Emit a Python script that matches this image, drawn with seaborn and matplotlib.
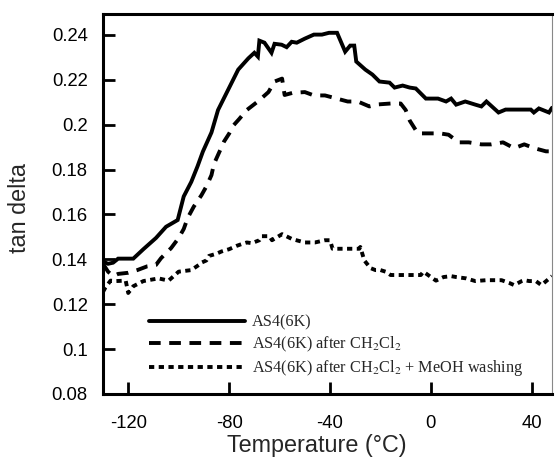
import matplotlib
matplotlib.use("Agg")
import matplotlib.pyplot as plt
import seaborn as sns
import pandas as pd

# tan delta vs temperature for the three fibre treatments
temp_as4 = [-130, -128, -126, -124, -120, -118, -114, -109, -105, -100.4, -98, -95,
            -92.5, -90.4, -87, -84.4, -80.4, -76.4, -72.4, -70, -68.6, -68, -66,
            -63.2, -62, -59.2, -57.2, -55.2, -53.2, -50, -46.4, -43.2, -40.4, -37.2,
            -34, -32, -30.4, -29.6, -26, -23.2, -20.4, -16.4, -14.4, -11.2, -8.4, -6,
            -2, 2.8, 6, 8, 10, 13.6, 17.6, 20, 22, 26.8, 29.6, 39.6, 40.8, 42.8,
            46.8, 48]
tan_as4 = [0.139, 0.138, 0.1385, 0.1403, 0.1403, 0.1403, 0.1445, 0.1495, 0.1545,
           0.1575, 0.168, 0.1745, 0.1815, 0.188, 0.1965, 0.2065, 0.2155, 0.2245,
           0.2295, 0.232, 0.2303, 0.2374, 0.2365, 0.232, 0.236, 0.2356, 0.2345,
           0.2369, 0.2365, 0.2383, 0.2401, 0.2401, 0.2409, 0.2409, 0.2325, 0.2352,
           0.2352, 0.2281, 0.2245, 0.2223, 0.2192, 0.2187, 0.2165, 0.2174, 0.2165,
           0.2161, 0.2116, 0.2116, 0.2103, 0.2116, 0.2089, 0.2103, 0.2089, 0.2081,
           0.2103, 0.2054, 0.2067, 0.2067, 0.2054, 0.2072, 0.2054, 0.2075]

temp_ch2cl2 = [-130, -128, -126, -124, -120, -116.4, -112.4, -109, -107, -103, -100,
               -98, -96.4, -94, -91, -89, -87, -86, -84, -82, -80, -78.4, -76, -73,
               -68.4, -64.4, -62, -59, -58, -55, -50, -46.4, -42, -38, -33, -29,
               -24.4, -21, -16, -12, -10, -8.4, -5.2, -1.2, 3.6, 7, 11, 15, 20, 24,
               28.6, 33, 37, 41, 45.6, 48]
tan_ch2cl2 = [0.138, 0.1345, 0.1325, 0.1335, 0.134, 0.1352, 0.1369, 0.1375, 0.1405,
              0.145, 0.1495, 0.1535, 0.1585, 0.1635, 0.1685, 0.1725, 0.1775, 0.1825,
              0.1875, 0.1925, 0.196, 0.1995, 0.2025, 0.2065, 0.2105, 0.2145, 0.2192,
              0.2205, 0.2132, 0.2141, 0.2145, 0.213, 0.213, 0.2118, 0.2103, 0.2103,
              0.2081, 0.209, 0.2094, 0.2094, 0.2065, 0.2018, 0.1961, 0.1961, 0.1961,
              0.1955, 0.1921, 0.1921, 0.1912, 0.1912, 0.1921, 0.1895, 0.1912, 0.1895,
              0.1881, 0.1881]

temp_meoh = [-130, -129, -127, -125, -121, -120, -118, -114, -108, -104, -100, -95,
             -92, -91, -89, -88, -85, -83, -80, -77, -75, -73, -71, -68, -67, -64,
             -63, -59, -55, -52, -50, -46, -42, -40, -39, -34, -32, -28.4, -28,
             -26.4, -24, -22, -20, -18, -16, -4, -3, 2, 5, 8, 10, 14, 17.6, 19.6,
             22, 28, 31, 33, 36, 37, 39, 41.6, 43.8, 48]
tan_meoh = [0.1255, 0.1275, 0.1305, 0.1303, 0.1305, 0.125, 0.128, 0.1303, 0.1315,
            0.1305, 0.1345, 0.1352, 0.1375, 0.1385, 0.1395, 0.1415, 0.1425, 0.1435,
            0.1445, 0.146, 0.1468, 0.1475, 0.1472, 0.1485, 0.1503, 0.1503, 0.1485,
            0.1512, 0.149, 0.1481, 0.1475, 0.1475, 0.1485, 0.1485, 0.1447, 0.1447,
            0.1447, 0.1447, 0.1455, 0.1395, 0.1361, 0.1352, 0.1352, 0.1345, 0.133,
            0.133, 0.1345, 0.1305, 0.1321, 0.1325, 0.1321, 0.1315, 0.1303, 0.1305,
            0.1307, 0.1307, 0.1295, 0.1285, 0.1303, 0.1307, 0.1303, 0.1303, 0.1285,
            0.1325]

labels = ["AS4(6K)",
          r"AS4(6K) after CH$_2$Cl$_2$",
          r"AS4(6K) after CH$_2$Cl$_2$ + MeOH washing"]
x_ticks = [-120, -80, -40, 0, 40]
y_ticks = [0.08, 0.1, 0.12, 0.14, 0.16, 0.18, 0.2, 0.22, 0.24]
y_tick_labels = ["0.08", "0.1", "0.12", "0.14", "0.16", "0.18", "0.2", "0.22", "0.24"]

sns.set_style("ticks")
plt.rcParams["font.family"] = ["Liberation Sans", "DejaVu Sans"]
plt.rcParams["mathtext.fontset"] = "stix"

fig = plt.figure(figsize=(5.55, 4.63), dpi=100)
ax = fig.add_axes([103 / 555, 1 - 394 / 463, 449 / 555, 380.5 / 463])

lw = 2.8
series = [
    (temp_as4, tan_as4, "-"),
    (temp_ch2cl2, tan_ch2cl2, (0, (3.0, 2.2))),
    (temp_meoh, tan_meoh, (0, (1.35, 1.15))),
]
for (t, v, ls), lab in zip(series, labels):
    df = pd.DataFrame({"T": t, "tan": v})
    sns.lineplot(data=df, x="T", y="tan", ax=ax, color="black", lw=lw,
                 linestyle=ls, label=lab, estimator=None,
                 solid_joinstyle="miter", dash_capstyle="butt")

ax.set_xlim(-130, 48)
ax.set_ylim(0.08, 0.2495)
ax.set_xticks(x_ticks)
ax.set_xticklabels([str(v) for v in x_ticks])
ax.set_yticks(y_ticks)
ax.set_yticklabels(y_tick_labels)

ax.tick_params(axis="both", direction="in", length=8.5, width=2.0,
               labelsize=13.3, colors="black")
ax.tick_params(axis="y", pad=11)
ax.tick_params(axis="x", pad=15)

for side in ["left", "bottom", "top"]:
    ax.spines[side].set_linewidth(2.2)
    ax.spines[side].set_color("black")
ax.spines["right"].set_linewidth(0.8)
ax.spines["right"].set_color("#888888")

ax.set_xlabel("Temperature (\u00b0C)", fontsize=16.8)
ax.set_ylabel("tan delta", fontsize=16.8)
ax.xaxis.set_label_coords((317 - 103) / 449, -(434 - 394) / 380.5)
ax.yaxis.set_label_coords(-(103 - 31) / 449, 0.49)

leg = ax.legend(loc="upper left", bbox_to_anchor=(0.1025, 0.208), frameon=False,
                borderpad=0, borderaxespad=0, handlelength=5.9, handletextpad=0.45,
                labelspacing=0.25, prop={"family": "Liberation Serif", "size": 11.7})
for line in leg.get_lines():
    line.set_linewidth(lw)

fig.savefig("out.png", dpi=100)
